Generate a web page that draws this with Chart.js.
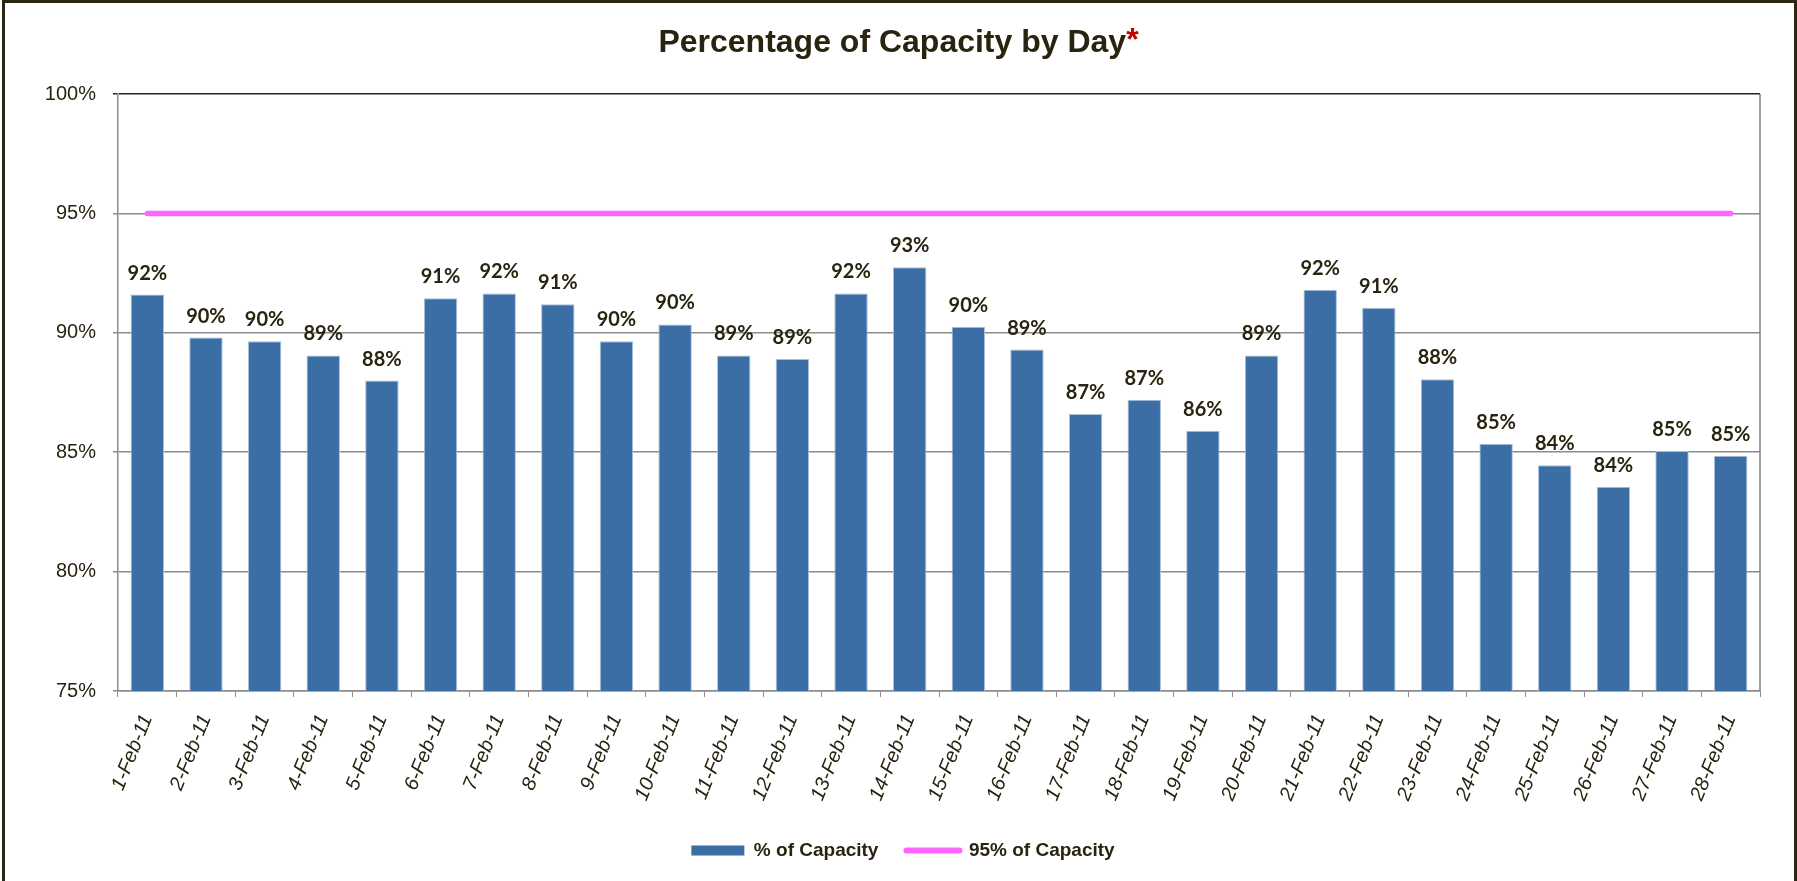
<!DOCTYPE html>
<html>
<head>
<meta charset="utf-8">
<script src="https://cdn.jsdelivr.net/npm/chart.js@4.4.1/dist/chart.umd.min.js"></script>
<style>
  html, body { margin: 0; padding: 0; background: #fff; }
  #wrap { position: relative; width: 1797px; height: 881px; }
  #frame { position: absolute; left: 2px; top: 0; width: 1795px; height: 881px; border: 3px solid #2b2611; border-bottom: none; box-sizing: border-box; pointer-events: none; }
</style>
</head>
<body>
<div id="wrap">
  <canvas id="capacityChart" width="1797" height="881"></canvas>
  <div id="frame"></div>
</div>
<script>
const days = ['1-Feb-11', '2-Feb-11', '3-Feb-11', '4-Feb-11', '5-Feb-11', '6-Feb-11', '7-Feb-11',
  '8-Feb-11', '9-Feb-11', '10-Feb-11', '11-Feb-11', '12-Feb-11', '13-Feb-11', '14-Feb-11',
  '15-Feb-11', '16-Feb-11', '17-Feb-11', '18-Feb-11', '19-Feb-11', '20-Feb-11', '21-Feb-11',
  '22-Feb-11', '23-Feb-11', '24-Feb-11', '25-Feb-11', '26-Feb-11', '27-Feb-11', '28-Feb-11'];

// % of capacity
const capacity = [91.6, 89.8, 89.65, 89.05, 88.0, 91.45, 91.65, 91.2, 89.65, 90.35, 89.05, 88.9, 91.65, 92.75,
  90.25, 89.3, 86.6, 87.2, 85.9, 89.05, 91.8, 91.05, 88.05, 85.35, 84.45, 83.55, 85.05, 84.85];

// 95% target line
const target = [95, 95, 95, 95, 95, 95, 95, 95, 95, 95, 95, 95, 95, 95,
  95, 95, 95, 95, 95, 95, 95, 95, 95, 95, 95, 95, 95, 95];

const yMin = 75;
const yMax = 100;
const yStep = 5;

const textColor = '#29240f';
const barColor = '#3b6ea5';
const lineColor = '#ff66ff';

// values above the bars
const barLabels = {
  id: 'barLabels',
  afterDatasetsDraw(chart) {
    const ctx = chart.ctx;
    const meta = chart.getDatasetMeta(0);
    ctx.save();
    ctx.font = 'bold 20px Lato';
    ctx.fillStyle = textColor;
    ctx.textAlign = 'center';
    ctx.textBaseline = 'alphabetic';
    meta.data.forEach((bar, i) => {
      ctx.fillText(Math.round(capacity[i]) + '%', bar.x, bar.y - 15);
    });
    ctx.restore();
  }
};

// title with the red asterisk + right border of the plot
const titleAndBorder = {
  id: 'titleAndBorder',
  afterDraw(chart) {
    const ctx = chart.ctx;
    const area = chart.chartArea;
    ctx.save();
    ctx.strokeStyle = '#7f7f7f';
    ctx.lineWidth = 1.5;
    ctx.beginPath();
    ctx.moveTo(area.right, area.top);
    ctx.lineTo(area.right, area.bottom);
    ctx.stroke();

    const title = 'Percentage of Capacity by Day';
    ctx.font = 'bold 32px "Liberation Sans"';
    ctx.textBaseline = 'middle';
    const w = ctx.measureText(title).width;
    const star = ctx.measureText('*').width;
    const x0 = chart.width / 2 - (w + star) / 2;
    ctx.textAlign = 'left';
    ctx.fillStyle = textColor;
    ctx.fillText(title, x0, 43);
    ctx.fillStyle = '#c00000';
    ctx.fillText('*', x0 + w, 41);
    ctx.restore();
  }
};

const capacityData = {
  labels: days,
  datasets: [{
    type: 'bar',
    label: '% of Capacity',
    data: capacity,
    backgroundColor: barColor,
    borderColor: '#a9c0dc',
    borderWidth: 1,
    barPercentage: 0.57,
    categoryPercentage: 1.0,
    order: 2
  }, {
    type: 'line',
    label: '95% of Capacity',
    data: target,
    borderColor: lineColor,
    backgroundColor: lineColor,
    borderWidth: 5.5,
    borderCapStyle: 'round',
    pointRadius: 0,
    fill: false,
    order: 1
  }]
};

const capacityConfig = {
  type: 'bar',
  data: capacityData,
  options: {
    responsive: false,
    animation: false,
    layout: {
      padding: { top: 94, right: 37, bottom: 11, left: 46 }
    },
    plugins: {
      title: { display: false },
      tooltip: { enabled: false },
      legend: {
        position: 'bottom',
        labels: {
          usePointStyle: true,
          pointStyleWidth: 53,
          boxHeight: 10,
          padding: 28,
          color: textColor,
          font: { family: 'Liberation Sans', size: 19, weight: 'bold' },
          generateLabels: () => [{
            text: '% of Capacity',
            fillStyle: barColor,
            strokeStyle: barColor,
            lineWidth: 0,
            pointStyle: 'rect',
            fontColor: textColor,
            datasetIndex: 0
          }, {
            text: '95% of Capacity',
            fillStyle: lineColor,
            strokeStyle: lineColor,
            lineWidth: 6,
            lineCap: 'round',
            pointStyle: 'line',
            fontColor: textColor,
            datasetIndex: 1
          }]
        }
      }
    },
    scales: {
      x: {
        grid: { drawOnChartArea: false, color: '#8c8c8c', tickLength: 6, offset: true },
        border: { color: '#8c8c8c', width: 1.5 },
        ticks: {
          autoSkip: false,
          minRotation: 68,
          maxRotation: 68,
          padding: 14,
          color: textColor,
          font: { family: 'Liberation Sans', size: 20, style: 'italic' }
        },
        afterFit(scale) { scale.height = 122; }
      },
      y: {
        min: yMin,
        max: yMax,
        ticks: {
          stepSize: yStep,
          padding: 17,
          color: textColor,
          font: { family: 'Liberation Sans', size: 20 },
          callback: (v) => v + '%'
        },
        grid: {
          color: (c) => (c.tick && c.tick.value === yMax ? '#2b2611' : '#8c8c8c'),
          lineWidth: 1.5,
          tickLength: 5
        },
        border: { color: '#8c8c8c', width: 1.5 },
        afterFit(scale) { scale.width = 72; }
      }
    }
  },
  plugins: [barLabels, titleAndBorder]
};

const capacityChart = new Chart(
  document.getElementById('capacityChart'),
  capacityConfig
);
</script>
</body>
</html>
